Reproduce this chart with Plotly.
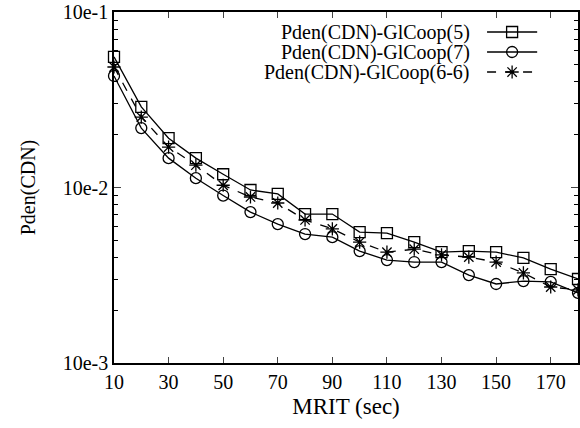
import plotly.graph_objects as go

mrit = [10, 20, 30, 40, 50, 60, 70, 80, 90, 100, 110, 120, 130, 140, 150, 160, 170, 180]
coop5 = [0.0555, 0.0288, 0.0191, 0.0147, 0.0119, 0.00968, 0.00919, 0.00706, 0.00706, 0.00557,
         0.0055, 0.00489, 0.00428, 0.00434, 0.00428, 0.00397, 0.00343, 0.00301]
coop7 = [0.0432, 0.0218, 0.0147, 0.0113, 0.0090, 0.00724, 0.00619, 0.00543, 0.00521, 0.00434,
         0.00386, 0.00376, 0.00376, 0.00317, 0.00282, 0.00293, 0.0029, 0.00251]
coop66 = [0.0486, 0.0252, 0.0170, 0.0134, 0.0103, 0.00883, 0.00816, 0.00653, 0.00581, 0.00489,
          0.00428, 0.00445, 0.00413, 0.00401, 0.00376, 0.00326, 0.00271, 0.00261]
names = ["Pden(CDN)-GlCoop(5)", "Pden(CDN)-GlCoop(7)", "Pden(CDN)-GlCoop(6-6)"]
symbols = ["square-open", "circle-open", "asterisk-open"]
dashes = ["solid", "solid", "dash"]
ytickvals = [0.001, 0.01, 0.1]
yticktext = ["10e-3", "10e-2", "10e-1"]
yminor = [m * d for d in [0.001, 0.01] for m in range(2, 10)]

FONT = "Times New Roman, Liberation Serif, Tinos, DejaVu Serif, serif"
fig = go.Figure()
for ys, nm, sym, ds in zip([coop5, coop7, coop66], names, symbols, dashes):
    fig.add_trace(go.Scatter(
        x=mrit, y=ys, name=nm, mode="lines+markers",
        line=dict(color="black", width=1.3, dash=ds),
        marker=dict(symbol=sym, size=11, color="black", line=dict(width=1.3, color="black")),
        showlegend=False, cliponaxis=False))

# custom legend (text left, sample right) on an overlay axis
leg_y = [0.943, 0.886, 0.829]
for nm, sym, ds, ly in zip(names, symbols, dashes, leg_y):
    fig.add_trace(go.Scatter(
        x=[0.804, 0.912], y=[ly, ly], mode="lines", xaxis="x2", yaxis="y2",
        line=dict(color="black", width=1.3, dash=ds), showlegend=False, hoverinfo="skip"))
    fig.add_trace(go.Scatter(
        x=[0.858], y=[ly], mode="markers", xaxis="x2", yaxis="y2",
        marker=dict(symbol=sym, size=11, color="black", line=dict(width=1.3, color="black")),
        showlegend=False, hoverinfo="skip"))
    fig.add_annotation(x=0.772, y=ly, xref="x2 domain", yref="y2", text=nm,
                       showarrow=False, xanchor="right", yanchor="middle",
                       font=dict(family=FONT, size=20, color="black"))

fig.update_layout(
    width=580, height=428,
    margin=dict(l=114, r=2, t=12, b=65),
    paper_bgcolor="white", plot_bgcolor="white",
    font=dict(family=FONT, size=20, color="black"),
    xaxis=dict(range=[10, 180], tick0=10, dtick=20, ticks="inside", ticklen=6,
               showline=True, linecolor="black", linewidth=1.5, mirror="ticks",
               showgrid=False, zeroline=False, automargin=False,
               tickfont=dict(family=FONT, size=20),
               title=dict(text="MRIT (sec)", font=dict(family=FONT, size=23), standoff=6)),
    yaxis=dict(type="log", range=[-3, -1], tickmode="array", tickvals=ytickvals,
               ticktext=yticktext, ticks="inside", ticklen=7,
               showline=True, linecolor="black", linewidth=1.5, mirror="ticks",
               showgrid=False, zeroline=False, automargin=False,
               tickfont=dict(family=FONT, size=20),
               minor=dict(tickmode="array", tickvals=yminor, ticks="inside", ticklen=4,
                          tickcolor="black"),
               title=dict(text="Pden(CDN)", font=dict(family=FONT, size=20), standoff=22)),
    xaxis2=dict(overlaying="x", range=[0, 1], visible=False, fixedrange=True),
    yaxis2=dict(overlaying="y", range=[0, 1], visible=False, fixedrange=True),
)
fig.write_html("out.html", config={"displayModeBar": False},
               post_script="document.body.style.margin='0';document.body.style.padding='0';")
